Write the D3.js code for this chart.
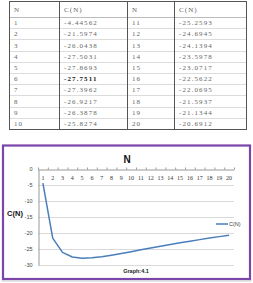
<!DOCTYPE html>
<html><head><meta charset="utf-8">
<script src="https://cdn.jsdelivr.net/npm/d3@7"></script>
<style>body{margin:0;background:#fff}svg{display:block}</style>
</head><body>
<script>
const nValues = [1,2,3,4,5,6,7,8,9,10,11,12,13,14,15,16,17,18,19,20];
const cValues = [-4.44562,-21.5974,-26.0438,-27.5031,-27.8693,-27.7511,-27.3962,-26.9217,-26.3878,-25.8274,
                 -25.2593,-24.6945,-24.1394,-23.5978,-23.0717,-22.5622,-22.0695,-21.5937,-21.1344,-20.6912];
const tableHeaders = ["N","C(N)","N","C(N)"];
const yTicks = [0,-5,-10,-15,-20,-25,-30];
const chartTitle = "N";
const yTitle = "C(N)";
const seriesName = "C(N)";
const caption = "Graph:4.1";

const W=253,H=283;
const svg=d3.select("body").append("svg").attr("width",W).attr("height",H);

// ---- Table ----
const tL=9,tR=247,tTop=1,hdrB=17,rowH=11.2;
const colX=[9,59,127,174,247];
const rows=d3.range(10);
const ry=d3.scaleLinear().domain([0,10]).range([hdrB,hdrB+rowH*10]);
const tg=svg.append("g");
tg.selectAll("line.r").data(d3.range(1,10)).enter().append("line")
  .attr("x1",tL).attr("x2",tR).attr("y1",d=>Math.round(ry(d))+0.5).attr("y2",d=>Math.round(ry(d))+0.5)
  .attr("stroke","#dcdcdc").attr("stroke-width",1);
tg.append("line").attr("x1",tL).attr("x2",tR).attr("y1",hdrB+0.5).attr("y2",hdrB+0.5).attr("stroke","#bbb");
tg.append("rect").attr("x",tL+0.5).attr("y",tTop+0.5).attr("width",tR-tL-1).attr("height",ry(10)-tTop)
  .attr("fill","none").attr("stroke","#555").attr("stroke-width",1);
tg.selectAll("line.c").data(colX.slice(1,4)).enter().append("line")
  .attr("x1",d=>d+0.5).attr("x2",d=>d+0.5).attr("y1",tTop).attr("y2",ry(10)+1)
  .attr("stroke","#555");
const tfont="'Liberation Serif', serif";
tg.selectAll("text.h").data(tableHeaders).enter().append("text")
  .attr("x",(d,i)=>colX[i]+5).attr("y",11.5).text(d=>d)
  .attr("font-family",tfont).attr("font-size",7).attr("letter-spacing",1.1).attr("fill","#666");
rows.forEach(i=>{
  const y=ry(i)+rowH/2+2.5;
  const cells=[nValues[i],cValues[i],nValues[i+10],cValues[i+10]];
  cells.forEach((c,j)=>{
    tg.append("text").attr("x",colX[j]+5).attr("y",y).text(String(c))
      .attr("font-family",tfont).attr("font-size",7).attr("letter-spacing",1.1)
      .attr("fill",(i===5&&j===1)?"#222":"#666")
      .attr("font-weight",(i===5&&j===1)?"bold":"normal");
  });
});

// ---- Chart ----
const cg=svg.append("g");
cg.append("rect").attr("x",1.5).attr("y",280.5).attr("width",250).attr("height",1).attr("fill","#ccc");
cg.append("rect").attr("x",3).attr("y",145.5).attr("width",247).attr("height",133.5)
  .attr("fill","#fff").attr("stroke","#7B45A9").attr("stroke-width",2.2);

const x=d3.scaleBand().domain(nValues).range([38,234]);
const y=d3.scaleLinear().domain([-30,0]).range([265,169]);

cg.selectAll("line.g").data(yTicks.filter(d=>d!==0)).enter().append("line")
  .attr("x1",38).attr("x2",234).attr("y1",d=>Math.round(y(d))+0.5).attr("y2",d=>Math.round(y(d))+0.5)
  .attr("stroke","#d9d9d9");
const yAxis=d3.axisLeft(y).tickValues(yTicks).tickSize(0).tickPadding(6).tickFormat(d=>d);
const yg=cg.append("g").attr("transform","translate(38.5,0)").call(yAxis);
yg.select(".domain").attr("stroke","#999");
yg.selectAll("text").attr("font-family","'Liberation Sans', sans-serif").attr("font-size",5.5).attr("fill","#444");
const xAxis=d3.axisTop(x).tickSize(0).tickFormat(d=>d);
const xg=cg.append("g").attr("transform",`translate(0,${Math.round(y(0))+0.5})`).call(xAxis);
xg.select(".domain").attr("stroke","#999");
xg.selectAll("text").attr("font-family",tfont).attr("font-size",6).attr("fill","#333")
  .attr("dy",0).attr("y",10.5);
xg.selectAll("line.bt").data(d3.range(21)).enter().append("line")
  .attr("x1",d=>38+d*x.step()+0.5).attr("x2",d=>38+d*x.step()+0.5).attr("y1",-2).attr("y2",0)
  .attr("stroke","#999");

const line=d3.line().x((d,i)=>x(nValues[i])+x.bandwidth()/2).y(d=>y(d));
cg.append("path").datum(cValues).attr("d",line).attr("fill","none")
  .attr("stroke","#4A7EBB").attr("stroke-width",1.5).attr("stroke-linejoin","round");

cg.append("text").attr("x",127).attr("y",163).attr("text-anchor","middle").text(chartTitle)
  .attr("font-family","'Liberation Sans', sans-serif").attr("font-weight","bold").attr("font-size",10).attr("fill","#111");
cg.append("text").attr("x",15).attr("y",216).attr("text-anchor","middle").text(yTitle)
  .attr("font-family","'Liberation Sans', sans-serif").attr("font-weight","bold").attr("font-size",7.5).attr("fill","#111");
cg.append("text").attr("x",136).attr("y",273).attr("text-anchor","middle").text(caption)
  .attr("font-family","'Liberation Sans', sans-serif").attr("font-weight","bold").attr("font-size",5.5).attr("fill","#222");
cg.append("line").attr("x1",216).attr("x2",228).attr("y1",224).attr("y2",224).attr("stroke","#4A7EBB").attr("stroke-width",1.5);
cg.append("text").attr("x",229).attr("y",226).text(seriesName)
  .attr("font-family","'Liberation Sans', sans-serif").attr("font-size",5.5).attr("fill","#444");
</script>
</body></html>
